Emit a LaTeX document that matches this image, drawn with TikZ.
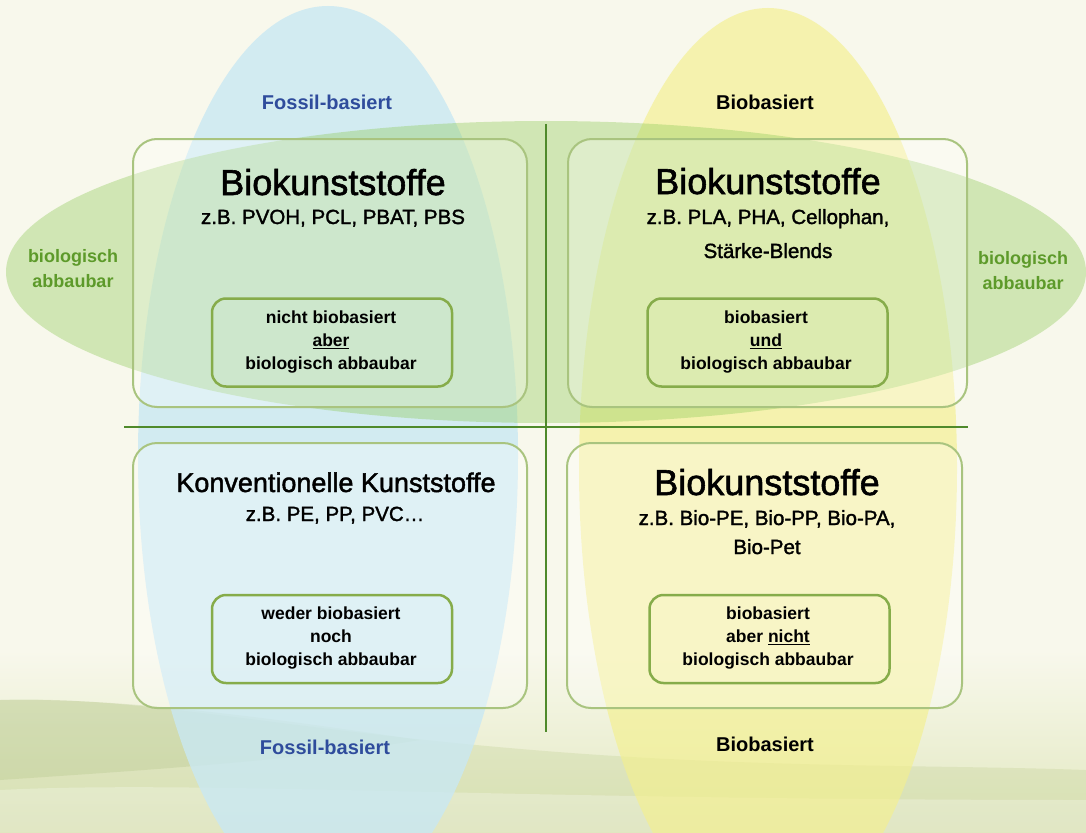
\documentclass[tikz,border=0pt]{standalone}
\usepackage{fontspec}
\setmainfont{Liberation Sans}
\newfontfamily\medfont{Liberation Sans}[FakeBold=1.6]
\definecolor{bgc}{HTML}{F8F8EC}
\definecolor{hillc}{HTML}{E2E8C0}
\definecolor{hilld}{HTML}{B7C985}
\definecolor{treec}{HTML}{9FB670}
\definecolor{bluec}{HTML}{C9E8F3}
\definecolor{yellowc}{HTML}{F4F08E}
\definecolor{greenc}{HTML}{8FCB5A}
\definecolor{outerc}{HTML}{A9C47F}
\definecolor{innerc}{HTML}{86AC4A}
\definecolor{linec}{HTML}{4F8A2B}
\definecolor{fossilc}{HTML}{2F4C9C}
\definecolor{abbauc}{HTML}{5D9A2A}
\begin{document}
\begin{tikzpicture}[x=1pt,y=-1pt,
  outerbox/.style={draw=outerc, line width=2pt, rounded corners=24pt, fill=white, fill opacity=0.3, inner sep=0pt},
  innerbox/.style={draw=innerc, line width=2.5pt, rounded corners=14pt, minimum width=240pt, minimum height=88pt, inner sep=0pt},
  titletxt/.style={anchor=base, inner sep=0pt, font=\medfont\fontsize{36}{40}\selectfont},
  subtxt/.style={anchor=base, inner sep=0pt, font=\medfont\fontsize{20.5}{24}\selectfont},
  innertxt/.style={align=center, inner sep=0pt, font=\fontsize{17.5}{23}\selectfont\bfseries},
  fossiltxt/.style={anchor=base, inner sep=0pt, text=fossilc, font=\fontsize{20}{24}\selectfont\bfseries},
  biotxt/.style={anchor=base, inner sep=0pt, font=\fontsize{20}{24}\selectfont\bfseries},
  abbautxt/.style={align=center, inner sep=0pt, text=abbauc, font=\fontsize{18}{25}\selectfont\bfseries},
  quadline/.style={draw=linec, line width=2pt}
]
\useasboundingbox (0,0) rectangle (1086,832);
% background
\fill[bgc] (0,0) rectangle (1086,832);
\shade[top color=bgc, bottom color=hillc] (0,650) rectangle (1086,832);
\fill[hilld, opacity=0.25] (0,700) .. controls (150,695) and (300,735) .. (600,755) .. controls (800,768) and (950,765) .. (1086,770) -- (1086,832) -- (0,832) -- cycle;
\fill[treec, opacity=0.22] (0,700) .. controls (120,698) and (250,715) .. (420,740) .. controls (300,760) and (150,770) .. (0,780) -- cycle;
\fill[white, opacity=0.25] (0,790) .. controls (200,780) and (500,800) .. (1086,800) -- (1086,832) -- (0,832) -- cycle;
% ellipses
\fill[bluec, opacity=0.8] (328,456) ellipse [x radius=190pt, y radius=450pt];
\fill[yellowc, opacity=0.65] (768,468) ellipse [x radius=189pt, y radius=460pt];
\fill[greenc, opacity=0.38] (546,272) ellipse [x radius=540pt, y radius=151pt];
% quadrant lines
\coordinate (vtop) at (546,124);
\coordinate (vbot) at (546,732);
\coordinate (hleft) at (124,427);
\coordinate (hright) at (968,427);
\draw[quadline] (vtop) -- (vbot);
\draw[quadline] (hleft) -- (hright);
% outer boxes
\node[outerbox, minimum width=394pt, minimum height=268pt] (otl) at (330,273) {};
\node[outerbox, minimum width=399pt, minimum height=268pt] (otr) at (767.5,273) {};
\node[outerbox, minimum width=394pt, minimum height=265pt] (obl) at (330,575.5) {};
\node[outerbox, minimum width=395pt, minimum height=265pt] (obr) at (764.5,575.5) {};
% inner boxes
\node[innerbox] (itl) at (332,342.5) {};
\node[innerbox] (itr) at (767.5,342.5) {};
\node[innerbox] (ibl) at (332,639) {};
\node[innerbox] (ibr) at (769.5,639) {};
% titles
\node[titletxt] (ttl) at (333,195) {Biokunststoffe};
\node[subtxt] (stl) at (333,224) {z.B. PVOH, PCL, PBAT, PBS};
\node[titletxt] (ttr) at (768,194) {Biokunststoffe};
\node[subtxt] (str1) at (768,224) {z.B. PLA, PHA, Cellophan,};
\node[subtxt] (str2) at (768,258) {Stärke-Blends};
\node[titletxt, font=\medfont\fontsize{27}{30}\selectfont] (tbl) at (336,492) {Konventionelle Kunststoffe};
\node[subtxt] (sbl) at (335,521) {z.B. PE, PP, PVC…};
\node[titletxt] (tbr) at (767,495) {Biokunststoffe};
\node[subtxt] (sbr1) at (767,525) {z.B. Bio-PE, Bio-PP, Bio-PA,};
\node[subtxt] (sbr2) at (767,554) {Bio-Pet};
% inner texts
\node[innertxt] (xtl) at (331,342.5) {nicht biobasiert\\\underline{aber}\\biologisch abbaubar};
\node[innertxt] (xtr) at (766,342.5) {biobasiert\\\underline{und}\\biologisch abbaubar};
\node[innertxt] (xbl) at (331,638.5) {weder biobasiert\\noch\\biologisch abbaubar};
\node[innertxt] (xbr) at (768,638.5) {biobasiert\\aber \underline{nicht}\\biologisch abbaubar};
% labels
\node[fossiltxt] (ftop) at (327,110) {Fossil-basiert};
\node[fossiltxt] (fbot) at (325,754) {Fossil-basiert};
\node[biotxt] (btop) at (765,110) {Biobasiert};
\node[biotxt] (bbot) at (765,751) {Biobasiert};
\node[abbautxt] (aleft) at (73,268.5) {biologisch\\abbaubar};
\node[abbautxt] (aright) at (1023,271) {biologisch\\abbaubar};
\end{tikzpicture}
\end{document}
